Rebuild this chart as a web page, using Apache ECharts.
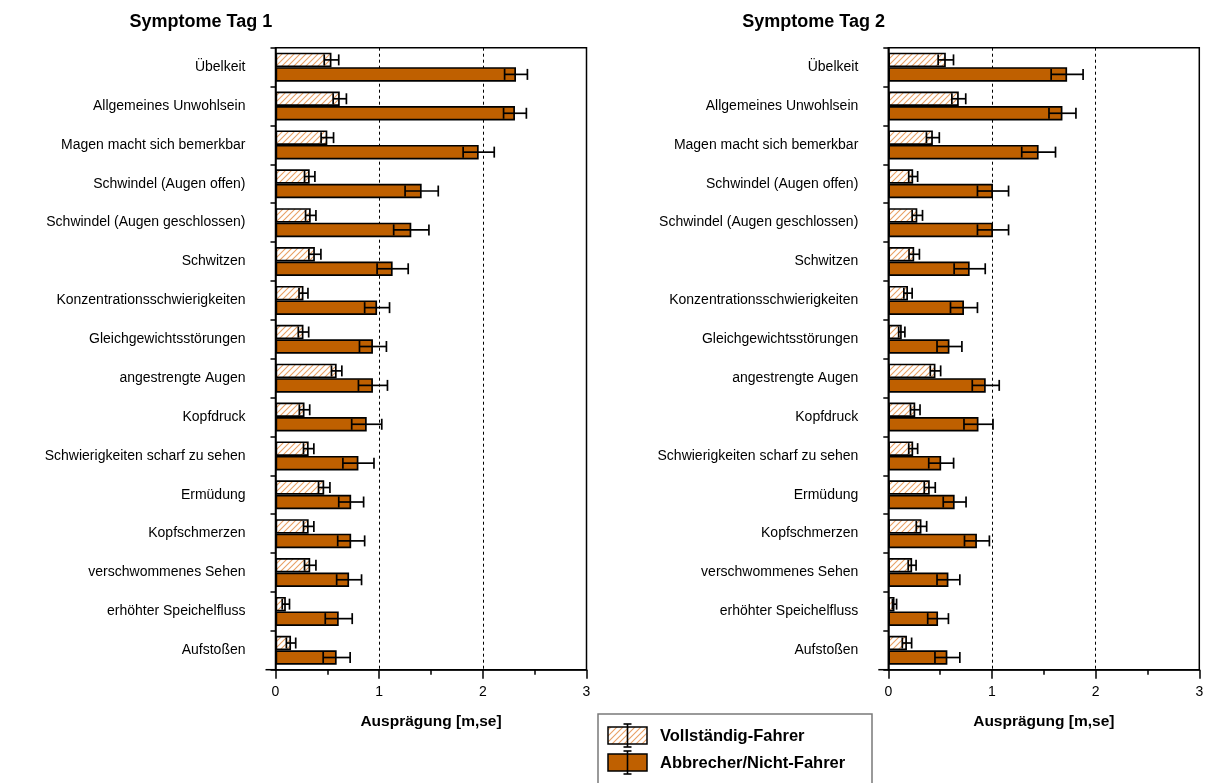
<!DOCTYPE html>
<html>
<head>
<meta charset="utf-8">
<script src="https://cdn.jsdelivr.net/npm/echarts@6/dist/echarts.min.js"></script>
<style>
  html, body { margin: 0; padding: 0; background: #fff; }
  #chart { width: 1208px; height: 783px; }
</style>
</head>
<body>
<div id="chart"></div>
<script>
// Symptom ratings (mean and standard error) for both groups on two days
const categories = [
  'Übelkeit', 'Allgemeines Unwohlsein', 'Magen macht sich bemerkbar',
  'Schwindel (Augen offen)', 'Schwindel (Augen geschlossen)', 'Schwitzen',
  'Konzentrationsschwierigkeiten', 'Gleichgewichtsstörungen', 'angestrengte Augen',
  'Kopfdruck', 'Schwierigkeiten scharf zu sehen', 'Ermüdung', 'Kopfschmerzen',
  'verschwommenes Sehen', 'erhöhter Speichelfluss', 'Aufstoßen'
];
const seriesNames = ['Vollständig-Fahrer', 'Abbrecher/Nicht-Fahrer'];
const panelTitles = ['Symptome Tag 1', 'Symptome Tag 2'];
const axisTitle = 'Ausprägung [m,se]';
const xTicks = [0, 1, 2, 3];

const day1Full     = [0.54, 0.62, 0.50, 0.33, 0.34, 0.38, 0.27, 0.27, 0.59, 0.28, 0.32, 0.47, 0.32, 0.335, 0.10, 0.15];
const day1FullSe   = [0.07, 0.064, 0.06, 0.05, 0.05, 0.058, 0.043, 0.05, 0.05, 0.05, 0.05, 0.055, 0.05, 0.055, 0.035, 0.045];
const day1Drop     = [2.32, 2.31, 1.96, 1.41, 1.31, 1.13, 0.98, 0.94, 0.94, 0.88, 0.80, 0.73, 0.73, 0.71, 0.61, 0.59];
const day1DropSe   = [0.11, 0.11, 0.15, 0.16, 0.17, 0.15, 0.12, 0.13, 0.14, 0.145, 0.15, 0.12, 0.13, 0.12, 0.13, 0.13];
const day2Full     = [0.555, 0.68, 0.43, 0.24, 0.28, 0.25, 0.19, 0.13, 0.455, 0.26, 0.24, 0.40, 0.32, 0.23, 0.06, 0.18];
const day2FullSe   = [0.074, 0.067, 0.062, 0.043, 0.05, 0.05, 0.04, 0.03, 0.05, 0.046, 0.043, 0.053, 0.05, 0.038, 0.02, 0.045];
const day2Drop     = [1.725, 1.68, 1.45, 1.01, 1.01, 0.785, 0.73, 0.59, 0.94, 0.87, 0.51, 0.64, 0.855, 0.58, 0.48, 0.57];
const day2DropSe   = [0.154, 0.13, 0.163, 0.15, 0.15, 0.15, 0.13, 0.12, 0.13, 0.14, 0.12, 0.11, 0.12, 0.11, 0.10, 0.12];

const ORANGE = '#BF6000';
const HATCH = 'rgb(232,160,100)';
const FONT = '"Liberation Sans", Arial, sans-serif';
const BAR_W = 14.5;
const GRID_TOP = 47.7, GRID_H = 622;

// diagonal hatch tile for the first group, handed over as a data URL
function hatchTile() {
  const n = 6;
  const c = document.createElement('canvas');
  c.width = n; c.height = n;
  const g = c.getContext('2d');
  g.fillStyle = '#ffffff';
  g.fillRect(0, 0, n, n);
  g.strokeStyle = HATCH;
  g.lineWidth = 1.1;
  g.beginPath();
  g.moveTo(-1, n + 1); g.lineTo(n + 1, -1);
  g.moveTo(-1, 1); g.lineTo(1, -1);
  g.moveTo(n - 1, n + 1); g.lineTo(n + 1, n - 1);
  g.stroke();
  return c.toDataURL('image/png');
}
const hatchImg = new Image();
hatchImg.src = hatchTile();
const hatch = { image: hatchImg, repeat: 'repeat' };
const fills = [hatch, ORANGE];

const panels = [
  { left: 275.5, groups: [[day1Full, day1FullSe], [day1Drop, day1DropSe]] },
  { left: 888.3, groups: [[day2Full, day2FullSe], [day2Drop, day2DropSe]] }
];

const grids = [], xAxes = [], yAxes = [], series = [], titles = [], extras = [];

function errorRenderer(offset) {
  return function (params, api) {
    const v = api.value(0), cat = api.value(1), se = api.value(2);
    const a = api.coord([v - se, cat]);
    const b = api.coord([v + se, cat]);
    const y = a[1] + offset;
    const h = 5.5;
    const style = { stroke: '#000', lineWidth: 1.7 };
    return {
      type: 'group',
      children: [
        { type: 'line', shape: { x1: a[0], y1: y, x2: b[0], y2: y }, style },
        { type: 'line', shape: { x1: a[0], y1: y - h, x2: a[0], y2: y + h }, style },
        { type: 'line', shape: { x1: b[0], y1: y - h, x2: b[0], y2: y + h }, style }
      ]
    };
  };
}

panels.forEach((p, i) => {
  grids.push({
    left: p.left, top: GRID_TOP, width: 311, height: GRID_H,
    show: true, borderColor: '#000', borderWidth: 1.5, backgroundColor: '#fff'
  });
  titles.push({
    text: panelTitles[i],
    left: p.left - 151, top: 8,
    textStyle: { fontFamily: FONT, fontSize: 18, fontWeight: 'bold', color: '#000' }
  });
  // the x axis line runs a little past the y axis on the left
  extras.push({
    type: 'line', z: 10,
    shape: { x1: p.left - 10, y1: GRID_TOP + GRID_H, x2: p.left, y2: GRID_TOP + GRID_H },
    style: { stroke: '#000', lineWidth: 1.5 }
  });
  xAxes.push({
    type: 'value', gridIndex: i, min: xTicks[0], max: xTicks[xTicks.length - 1], interval: 1,
    name: axisTitle, nameLocation: 'middle', nameGap: 44,
    nameTextStyle: { fontFamily: FONT, fontSize: 15.5, fontWeight: 'bold', color: '#000' },
    axisLine: { show: true, lineStyle: { color: '#000', width: 1.5 } },
    axisTick: { show: true, length: 9, lineStyle: { color: '#000', width: 1.5 } },
    minorTick: { show: true, splitNumber: 2, length: 5, lineStyle: { color: '#000', width: 1.5 } },
    axisLabel: { fontFamily: FONT, fontSize: 14, color: '#000', margin: 15 },
    splitLine: { show: true, lineStyle: { color: '#000', type: [3, 3], width: 1 } }
  });
  yAxes.push({
    type: 'category', gridIndex: i, data: categories, inverse: true,
    axisLine: { show: true, lineStyle: { color: '#000', width: 1.5 } },
    axisTick: { show: true, length: 5, lineStyle: { color: '#000', width: 1.5 } },
    axisLabel: { fontFamily: FONT, fontSize: 14, color: '#000', margin: 30 },
    splitLine: { show: false }
  });
  p.groups.forEach((g, k) => {
    series.push({
      type: 'bar', name: seriesNames[k], xAxisIndex: i, yAxisIndex: i,
      data: g[0], barWidth: BAR_W, barGap: '0%',
      itemStyle: { color: fills[k], borderColor: '#000', borderWidth: 1.7 },
      z: 2, silent: true
    });
  });
  p.groups.forEach((g, k) => {
    series.push({
      type: 'custom', name: seriesNames[k] + ' se', xAxisIndex: i, yAxisIndex: i,
      data: g[0].map((v, j) => [v, j, g[1][j]]),
      encode: { x: 0, y: 1 },
      renderItem: errorRenderer(k === 0 ? -BAR_W / 2 : BAR_W / 2),
      z: 5, silent: true
    });
  });
});

// legend box with bar swatches and error bar marks
function swatch(y, fill) {
  const cx = 627.5, h = 17;
  return [
    { type: 'rect', shape: { x: 608, y: y, width: 39, height: h }, style: { fill: fill, stroke: '#000', lineWidth: 1.5 } },
    { type: 'line', shape: { x1: cx, y1: y - 3, x2: cx, y2: y + h + 3 }, style: { stroke: '#000', lineWidth: 1.6 } },
    { type: 'line', shape: { x1: cx - 4, y1: y - 3, x2: cx + 4, y2: y - 3 }, style: { stroke: '#000', lineWidth: 1.6 } },
    { type: 'line', shape: { x1: cx - 4, y1: y + h + 3, x2: cx + 4, y2: y + h + 3 }, style: { stroke: '#000', lineWidth: 1.6 } }
  ];
}
const legendGraphic = [
  { type: 'rect', shape: { x: 598, y: 714, width: 274, height: 80 }, style: { fill: '#fff', stroke: '#7a7a7a', lineWidth: 1.5 } },
  ...swatch(727, hatch),
  ...swatch(754, ORANGE),
  { type: 'text', x: 660, y: 736, style: { text: seriesNames[0], fontFamily: FONT, fontSize: 16.5, fontWeight: 'bold', fill: '#000', verticalAlign: 'middle' } },
  { type: 'text', x: 660, y: 763, style: { text: seriesNames[1], fontFamily: FONT, fontSize: 16.5, fontWeight: 'bold', fill: '#000', verticalAlign: 'middle' } }
];

function draw() {
  const chart = echarts.init(document.getElementById('chart'), null, { renderer: 'canvas' });
  chart.setOption({
    animation: false,
    backgroundColor: '#fff',
    title: titles,
    grid: grids,
    xAxis: xAxes,
    yAxis: yAxes,
    series: series,
    graphic: { elements: legendGraphic.concat(extras) }
  });
}
if (hatchImg.complete) draw(); else hatchImg.onload = draw;
</script>
</body>
</html>
